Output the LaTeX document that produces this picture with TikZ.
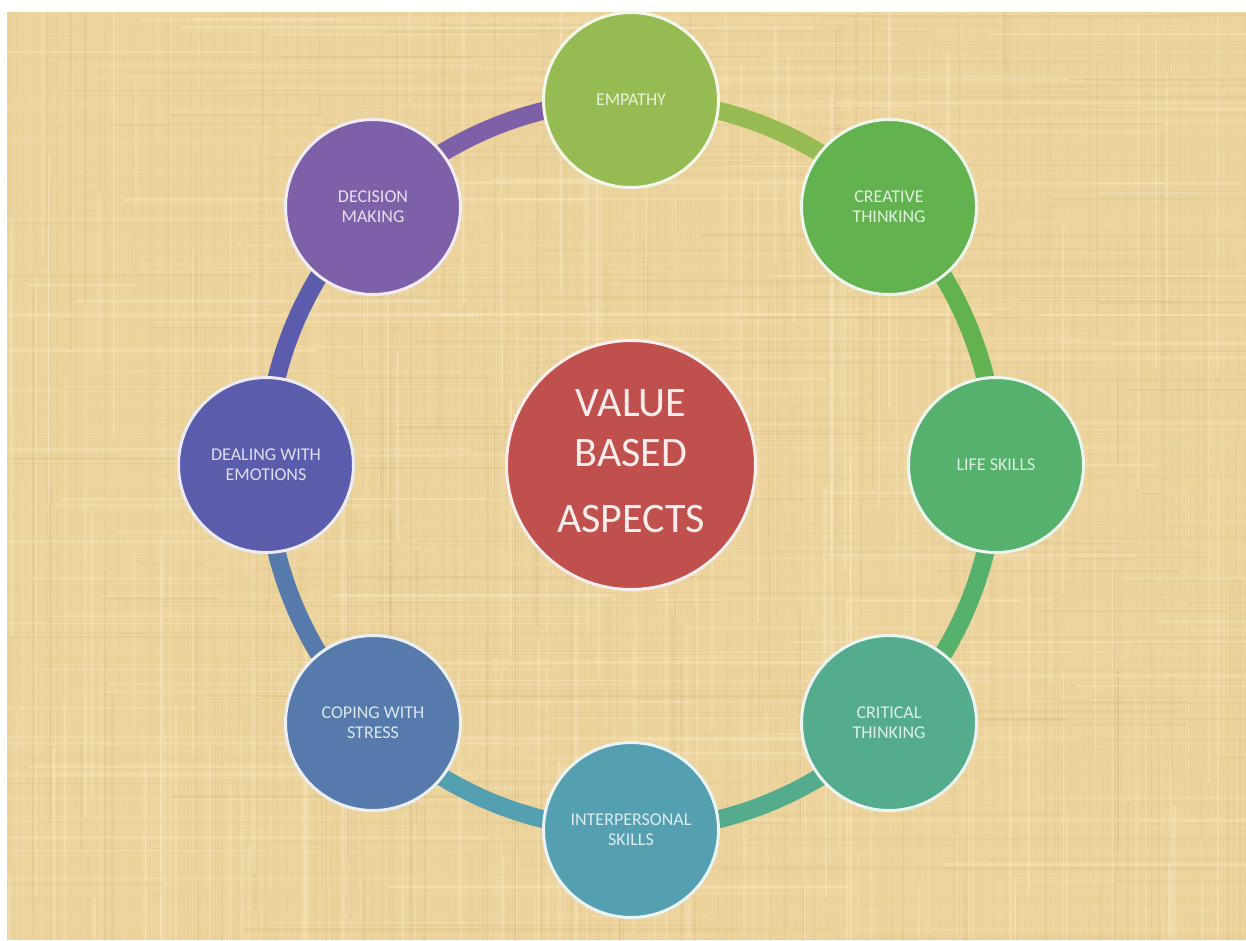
\documentclass[tikz,border=0pt]{standalone}
\usepackage{fontspec}
\setmainfont{Carlito}
\pgfdeclarelayer{bg}
\pgfdeclarelayer{mid}
\pgfsetlayers{bg,mid,main}
\definecolor{cEmp}{RGB}{150,187,82}
\definecolor{cCre}{RGB}{98,178,80}
\definecolor{cLif}{RGB}{86,176,110}
\definecolor{cCri}{RGB}{84,172,140}
\definecolor{cInt}{RGB}{84,160,176}
\definecolor{cCop}{RGB}{86,122,172}
\definecolor{cDea}{RGB}{92,92,172}
\definecolor{cDec}{RGB}{126,96,168}
\definecolor{cCen}{RGB}{192,80,77}
\definecolor{paper}{RGB}{236,212,156}
\definecolor{paperdark}{RGB}{200,172,112}
\definecolor{paperlight}{RGB}{252,238,202}
\tikzset{
  skill/.style={circle, minimum size=175pt, inner sep=0pt, line width=3pt,
    fill=#1, draw=white!88!#1, text=white!80!#1,
    font=\fontsize{18}{20}\selectfont, align=center},
  ring/.style={line width=18pt, draw=#1, bend left=22.5, looseness=0.885},
  centre/.style={circle, minimum size=249pt, inner sep=0pt, line width=3pt,
    fill=cCen, draw=white!90!cCen},
  centretext/.style={font=\fontsize{42}{50}\selectfont, text=white!93!red, align=center},
}
\begin{document}
\begin{tikzpicture}[x=1pt,y=-1pt]
\useasboundingbox (0,0) rectangle (1246,940);
\begin{pgfonlayer}{bg}
  \fill[white] (0,0) rectangle (1246,940);
  \fill[paper] (7,12) rectangle (1246,940);
  \begin{scope}
    \clip (7,12) rectangle (1246,940);
    \pgfmathsetseed{11}
    % fine weave
    \foreach \xx in {8,11,...,1246}{
      \pgfmathsetmacro\oo{0.03+0.10*rnd}
      \draw[paperdark, line width=0.6pt, opacity=\oo] (\xx,12) -- (\xx,940);
    }
    \foreach \yy in {13,16,...,940}{
      \pgfmathsetmacro\oo{0.03+0.10*rnd}
      \draw[paperlight, line width=0.8pt, opacity=\oo] (7,\yy) -- (1246,\yy);
    }
    % streaks
    \foreach \i in {1,...,260}{
      \pgfmathsetmacro\xx{7+1239*rnd}
      \pgfmathsetmacro\ww{0.5+2.5*rnd}
      \pgfmathsetmacro\oo{0.05+0.12*rnd}
      \pgfmathsetmacro\ya{-100+1000*rnd}
      \pgfmathsetmacro\yb{\ya+100+600*rnd}
      \draw[paperdark, line width=\ww pt, opacity=\oo] (\xx,\ya) -- (\xx,\yb);
    }
    \foreach \i in {1,...,260}{
      \pgfmathsetmacro\xx{7+1239*rnd}
      \pgfmathsetmacro\ww{0.5+3*rnd}
      \pgfmathsetmacro\oo{0.10+0.25*rnd}
      \pgfmathsetmacro\ya{-100+1000*rnd}
      \pgfmathsetmacro\yb{\ya+100+600*rnd}
      \draw[paperlight, line width=\ww pt, opacity=\oo] (\xx,\ya) -- (\xx,\yb);
    }
    \foreach \i in {1,...,220}{
      \pgfmathsetmacro\yy{12+928*rnd}
      \pgfmathsetmacro\ww{0.5+2.5*rnd}
      \pgfmathsetmacro\oo{0.05+0.12*rnd}
      \pgfmathsetmacro\xa{-100+1300*rnd}
      \pgfmathsetmacro\xb{\xa+100+600*rnd}
      \draw[paperdark, line width=\ww pt, opacity=\oo] (\xa,\yy) -- (\xb,\yy);
    }
    \foreach \i in {1,...,220}{
      \pgfmathsetmacro\yy{12+928*rnd}
      \pgfmathsetmacro\ww{0.5+3*rnd}
      \pgfmathsetmacro\oo{0.10+0.25*rnd}
      \pgfmathsetmacro\xa{-100+1300*rnd}
      \pgfmathsetmacro\xb{\xa+100+600*rnd}
      \draw[paperlight, line width=\ww pt, opacity=\oo] (\xa,\yy) -- (\xb,\yy);
    }
  \end{scope}
\end{pgfonlayer}

\node[skill=cEmp] (emp) at (631,100) {EMPATHY};
\node[skill=cCre] (cre) at (889,207) {CREATIVE\\THINKING};
\node[skill=cLif] (lif) at (996,465) {LIFE SKILLS};
\node[skill=cCri] (cri) at (889,723) {CRITICAL\\THINKING};
\node[skill=cInt] (int) at (631,830) {INTERPERSONAL\\SKILLS};
\node[skill=cCop] (cop) at (373,723) {COPING WITH\\STRESS};
\node[skill=cDea] (dea) at (266,465) {DEALING WITH\\EMOTIONS};
\node[skill=cDec] (dec) at (373,207) {DECISION\\MAKING};

\node[centre] (val) at (631,465) {};
\node[centretext] (valtxt) at (631,461) {VALUE\\BASED\\[16pt]ASPECTS};

\begin{pgfonlayer}{mid}
  \draw[ring=cEmp] (emp.center) to (cre.center);
  \draw[ring=cCre] (cre.center) to (lif.center);
  \draw[ring=cLif] (lif.center) to (cri.center);
  \draw[ring=cCri] (cri.center) to (int.center);
  \draw[ring=cInt] (int.center) to (cop.center);
  \draw[ring=cCop] (cop.center) to (dea.center);
  \draw[ring=cDea] (dea.center) to (dec.center);
  \draw[ring=cDec] (dec.center) to (emp.center);
\end{pgfonlayer}
\end{tikzpicture}
\end{document}
